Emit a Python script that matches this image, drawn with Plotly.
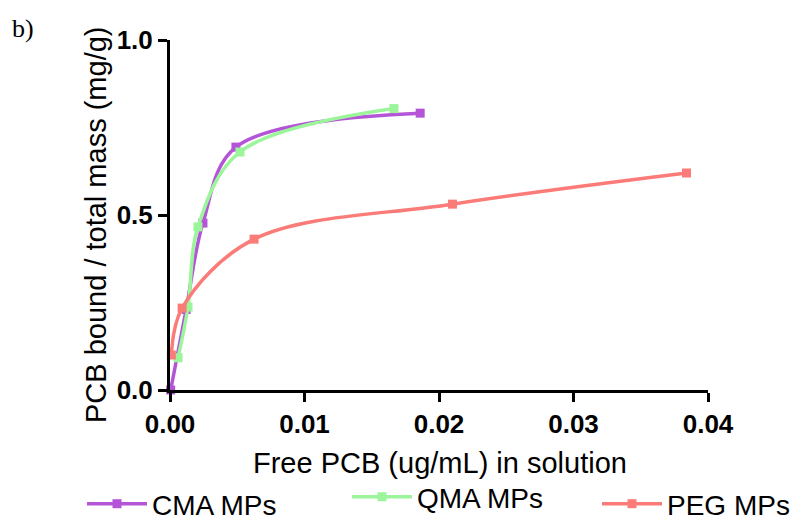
import plotly.graph_objects as go

# Data
cma_x = [0.00005, 0.0012, 0.00245, 0.0049, 0.0186]
cma_y = [0.0, 0.23, 0.477, 0.694, 0.791]
qma_x = [0.0006, 0.00134, 0.00208, 0.0052, 0.01665]
qma_y = [0.092, 0.237, 0.466, 0.68, 0.804]
peg_x = [0.0001, 0.0009, 0.00625, 0.021, 0.0384]
peg_y = [0.10, 0.234, 0.431, 0.531, 0.62]

names = ["CMA MPs", "QMA MPs", "PEG MPs"]
colors = ["#b455d8", "#9cf59a", "#fa7b78"]

x_ticks = [0, 0.01, 0.02, 0.03, 0.04]
x_ticktext = ["0.00", "0.01", "0.02", "0.03", "0.04"]
y_ticks = [0, 0.5, 1.0]
y_ticktext = ["0.0", "0.5", "1.0"]

FONT = "Liberation Sans, Arial, sans-serif"
W, H = 793, 523
L, R, T, B = 170, 85, 40, 133
PW, PH = W - L - R, H - T - B

legend_ids = ["legend", "legend2", "legend3"]
legend_x_px = [82, 347, 597]
legend_y_px = [504, 497, 504]

fig = go.Figure()
for xs, ys, name, col, lid in zip([cma_x, qma_x, peg_x], [cma_y, qma_y, peg_y], names, colors, legend_ids):
    fig.add_trace(go.Scatter(
        x=xs, y=ys, name=name, mode="lines+markers", legend=lid,
        line=dict(color=col, width=3.5, shape="spline", smoothing=1.0),
        marker=dict(symbol="square", size=9, color=col),
        cliponaxis=False,
    ))

legend_common = dict(font=dict(size=28, family=FONT), bgcolor="rgba(0,0,0,0)",
                     xref="container", yref="container", xanchor="left", yanchor="middle",
                     itemwidth=60)
layout_legends = {}
for lid, lx, ly in zip(legend_ids, legend_x_px, legend_y_px):
    layout_legends[lid] = dict(legend_common, x=lx / W, y=1 - ly / H)

fig.update_layout(
    width=W, height=H,
    margin=dict(l=L, r=R, t=T, b=B, autoexpand=False),
    plot_bgcolor="white", paper_bgcolor="white",
    font=dict(family=FONT, color="black"),
    showlegend=True,
    xaxis=dict(range=[0, 0.04], tickvals=x_ticks, ticktext=x_ticktext,
               showgrid=False, zeroline=False, showline=True, linecolor="black", linewidth=3,
               ticks="outside", ticklen=9, tickwidth=3, tickcolor="black",
               tickfont=dict(size=26, family=FONT, weight="bold")),
    yaxis=dict(range=[0, 1.0], tickvals=y_ticks, ticktext=y_ticktext,
               showgrid=False, zeroline=False, showline=True, linecolor="black", linewidth=3,
               ticks="outside", ticklen=9, tickwidth=3, tickcolor="black",
               tickfont=dict(size=26, family=FONT, weight="bold")),
    **layout_legends,
)
# axis titles
fig.add_annotation(text="Free PCB (ug/mL) in solution", xref="paper", yref="paper",
                   x=(440 - L) / PW, y=(T + PH - 463) / PH, xanchor="center", yanchor="middle",
                   showarrow=False, font=dict(size=29, family=FONT))
fig.add_annotation(text="PCB bound / total mass (mg/g)", xref="paper", yref="paper",
                   x=(96 - L) / PW, y=(T + PH - 225) / PH, xanchor="center", yanchor="middle",
                   textangle=-90, showarrow=False, font=dict(size=29, family=FONT))
fig.add_annotation(text="b)", xref="paper", yref="paper",
                   x=(10 - L) / PW, y=(T + PH - 28) / PH, xanchor="left", yanchor="middle",
                   showarrow=False, font=dict(family="Liberation Serif, Times New Roman, serif", size=26))

fig.write_html("out.html")
